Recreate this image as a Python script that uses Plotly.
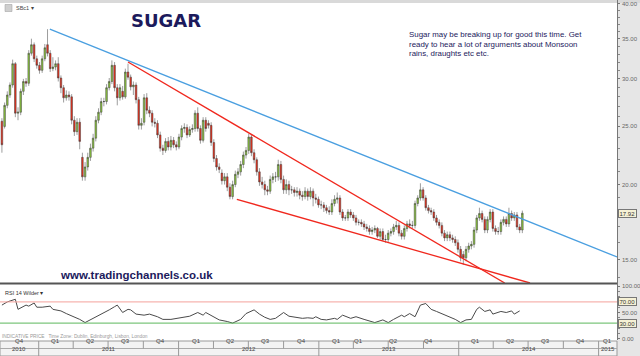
import math
import pandas as pd
import plotly.graph_objects as go

# ---------------- data (weekly candles) ----------------
open_ = [25.5,25.0,27.1,28.2,29.3,31.8,26.3,26.4,28.6,29.7,29.5,33.1,34.2,32.4,31.6,31.0,32.4,34.2,33.1,31.2,
         31.4,31.8,30.1,29.0,27.9,28.2,28.0,25.6,24.5,25.4,22.2,20.6,21.4,22.2,23.0,23.9,25.6,26.4,27.5,27.5,
         29.0,29.7,31.6,29.0,27.9,28.6,28.0,30.8,30.2,29.1,29.3,27.7,25.1,25.4,27.9,26.6,26.3,25.4,25.3,24.2,
         23.0,22.8,23.6,23.1,23.7,23.3,23.1,24.0,24.8,24.9,24.2,24.7,24.8,26.3,24.8,23.7,25.6,25.3,25.1,23.5,
         22.1,21.4,20.9,20.3,20.6,19.8,19.1,20.0,20.8,21.0,21.6,22.4,22.8,24.0,22.6,22.0,21.0,20.2,20.0,19.6,
         19.5,20.4,20.6,20.6,21.6,20.4,19.6,20.0,19.6,19.6,19.4,19.5,19.2,19.1,19.5,19.1,19.5,19.0,18.9,18.5,
         18.5,18.3,18.1,18.0,18.6,18.9,19.0,18.0,17.6,17.6,18.0,17.8,17.6,17.3,17.3,17.2,17.0,16.9,16.7,16.8,
         16.9,16.4,16.7,16.2,16.2,16.6,16.7,17.0,17.1,16.6,16.4,16.9,17.2,17.1,17.1,18.6,19.0,19.6,19.0,18.3,
         18.1,18.0,17.6,17.3,17.1,16.6,16.3,16.5,16.3,16.2,16.0,15.6,15.3,15.1,15.6,15.8,15.9,16.8,17.6,17.9,
         17.5,16.8,17.5,18.0,16.9,16.7,16.7,17.3,17.5,17.2,17.9,17.6,17.8,17.0,16.8]
high = [25.8,27.4,28.6,29.6,32.3,32.0,26.9,28.9,30.0,30.1,33.5,35.0,34.5,32.8,32.0,32.8,34.3,36.3,33.5,32.6,
        32.2,32.6,30.4,29.3,28.7,28.6,28.3,26.0,25.8,25.8,22.6,21.8,22.6,23.4,24.3,26.0,26.8,27.9,27.9,29.4,
        30.1,32.2,32.0,29.4,29.4,29.2,31.2,31.8,30.5,29.7,29.6,28.0,25.8,28.3,28.4,27.0,26.6,25.8,25.6,24.5,
        23.3,23.9,24.0,24.1,24.0,23.6,24.3,25.1,25.3,25.2,25.0,25.2,26.6,26.9,25.1,25.9,25.9,25.6,25.4,23.8,
        22.4,21.7,21.2,20.9,20.9,20.1,20.3,21.1,21.3,21.9,22.7,23.1,24.3,24.2,22.9,22.2,21.3,20.6,20.3,19.9,
        20.7,20.9,21.0,22.0,21.9,20.7,20.4,20.3,19.9,19.8,19.8,19.7,19.5,19.8,19.7,19.8,19.7,19.3,19.1,18.8,
        18.7,18.5,18.4,18.9,19.2,19.4,19.2,18.2,17.8,18.2,18.2,18.0,17.8,17.5,17.5,17.4,17.2,17.1,17.0,17.1,
        17.0,16.9,16.9,16.5,16.8,16.9,17.2,17.4,17.3,16.8,17.1,17.4,17.5,17.4,18.8,19.2,20.1,19.8,19.2,18.5,
        18.3,18.2,17.8,17.5,17.3,16.8,16.7,16.7,16.5,16.4,16.2,15.8,15.5,15.8,16.0,16.1,17.0,17.8,18.3,18.1,
        17.7,17.7,18.2,18.2,17.1,17.0,17.5,17.7,17.7,18.3,18.1,18.0,18.0,17.2,18.1]
low = [22.6,24.8,26.8,27.9,29.0,25.9,25.6,26.1,28.2,29.1,29.2,32.8,32.0,31.2,30.6,30.7,32.1,32.7,30.8,30.9,
       31.0,29.7,28.4,27.4,27.6,27.6,25.2,24.1,24.2,22.9,20.3,20.3,21.1,21.9,22.7,23.6,25.3,26.1,27.0,27.2,
       28.7,29.4,28.6,27.1,27.6,27.7,27.8,29.9,28.7,28.2,27.3,24.7,24.7,25.1,26.2,25.9,25.0,24.9,23.9,22.7,
       22.4,22.6,22.8,22.8,23.0,22.8,22.9,23.7,24.4,23.9,24.0,24.4,24.5,24.5,23.4,23.5,24.5,24.8,23.2,21.8,
       21.1,20.9,20.0,20.0,19.5,18.9,18.9,19.8,20.5,20.7,21.3,22.1,22.5,22.3,21.7,20.7,19.9,19.7,19.2,19.2,
       19.3,20.1,20.2,20.3,20.1,19.3,19.3,19.2,19.3,19.1,19.1,18.9,18.8,18.9,18.8,18.9,18.4,18.6,18.3,18.2,
       18.0,17.9,17.8,17.8,18.4,18.6,17.8,17.4,17.4,17.4,17.6,17.4,17.1,17.1,17.0,16.8,16.7,16.5,16.5,16.6,
       16.3,16.2,16.1,16.0,16.0,16.4,16.5,16.8,16.4,16.2,16.2,16.7,16.9,16.9,16.9,18.4,18.8,18.8,18.1,17.9,
       17.8,17.4,17.1,16.9,16.4,16.1,16.1,16.1,16.0,15.8,15.4,14.9,14.7,14.9,15.4,15.6,15.7,16.6,17.4,17.3,
       16.6,16.6,17.3,16.7,16.5,16.5,16.5,17.1,17.0,17.0,17.4,17.4,16.8,16.6,16.6]
close = [23.3,27.1,28.2,29.3,31.8,26.3,26.4,28.6,29.7,29.5,33.1,34.2,32.4,31.6,31.0,32.4,33.8,33.1,31.2,31.4,
         31.8,30.1,29.0,27.9,28.2,28.0,25.6,24.5,25.4,23.6,20.6,21.4,22.2,23.0,23.9,25.6,26.4,27.5,27.5,29.0,
         29.7,31.6,29.0,27.9,29.0,28.0,30.8,30.2,29.1,29.3,27.7,25.1,25.3,27.9,26.6,26.3,25.4,25.3,24.2,23.0,
         22.8,23.6,23.1,23.7,23.3,23.1,24.0,24.8,24.9,24.2,24.7,24.8,26.3,24.8,23.7,25.6,24.8,25.1,23.5,22.1,
         21.4,21.2,20.3,20.6,19.8,19.1,20.0,20.8,21.0,21.6,22.4,22.8,24.0,22.6,22.0,21.0,20.2,20.0,19.6,19.5,
         20.4,20.6,20.6,21.6,20.4,19.6,20.0,19.6,19.6,19.4,19.5,19.2,19.1,19.5,19.1,19.5,19.0,18.9,18.5,18.5,
         18.3,18.1,18.0,18.6,18.9,19.0,18.0,17.6,17.6,18.0,17.8,17.6,17.3,17.3,17.2,17.0,16.9,16.7,16.8,16.9,
         16.4,16.7,16.2,16.2,16.6,16.7,17.0,17.1,16.6,16.4,16.9,17.2,17.1,17.1,18.6,19.0,19.6,19.0,18.3,18.1,
         18.0,17.6,17.3,17.1,16.6,16.3,16.5,16.3,16.2,16.0,15.6,15.1,15.1,15.6,15.8,15.9,16.8,17.6,17.9,17.5,
         16.8,17.5,18.0,16.9,16.7,16.7,17.3,17.5,17.2,17.9,17.6,17.8,17.0,16.8,17.92]
last_week = "2014-06-16"

# RSI(14, Wilder) read at a subset of weeks (index into the weekly candles)
rsi_idx = [0,2,5,6,9,10,12,13,15,18,19,22,24,27,29,31,33,35,38,40,42,43,45,47,48,50,53,55,58,60,
           63,65,68,70,73,75,76,79,81,84,86,89,91,94,96,98,100,102,105,107,109,112,114,116,117,119,121,124,125,127,
           130,132,135,137,139,142,144,146,149,150,152,154,156,158,160,162,164,167,169,171,173,175,177,178,180,182,183,186,188,190,
           191,193]
rsi_val = [64,70,75,56,64,62,68,60,60,62,56,53,48,42,37,31,36,42,50,55,61,64,50,56,55,47,45,47,42,37,
           37,39,42,43,50,45,50,42,36,33,30,37,48,55,47,41,37,39,50,43,41,39,40,39,42,37,36,39,37,45,
           39,42,37,34,31,36,31,37,45,42,48,42,64,67,56,52,48,42,37,31,36,37,56,60,52,55,47,52,50,53,
           47,53]
rsi_levels = [70, 30]

# trend lines (date, price)
blue_x, blue_y = ["2011-01-30", "2015-02-18"], [36.3, 15.15]
red_up_x, red_up_y = ["2011-08-22", "2014-05-01"], [32.0, 13.71]
red_lo_x, red_lo_y = ["2012-06-01", "2014-07-06"], [18.9, 13.71]

price_ticks = [15, 20, 25, 30, 35, 40]
price_minor = [14, 16, 17, 18, 19, 21, 22, 23, 24, 26, 27, 28, 29, 31, 32, 33, 34, 36, 37, 38, 39]
rsi_ticks = [0, 50, 100]
x_start, x_end = "2010-09-22", "2015-02-18"
price_lo, price_hi = 13.71, 40.6

quarter_starts = pd.date_range("2011-01-01", "2015-01-01", freq="QS")
quarter_text = ["Q4", "Q1", "Q2", "Q3", "Q4", "Q1", "Q2", "Q3", "Q4",
                "Q1", "Q1", "Q2", "Q4", "Q1", "Q2", "Q3", "Q4", "Q1"]
year_text = ["2010", "2011", "2012", "2013", "2014", "2015"]

# ---------------- figure ----------------
W, H = 640, 356
XR = 617 / W
def py(p):
    return 1 - p / H

NAVY = "#1c1a5c"
dates = pd.date_range(end=last_week, periods=len(close), freq="7D")

fig = go.Figure()
fig.add_trace(go.Candlestick(
    x=dates, open=open_, high=high, low=low, close=close,
    increasing=dict(fillcolor="#8cc63f", line=dict(color="#3a3a3a", width=0.5)),
    decreasing=dict(fillcolor="#e8321e", line=dict(color="#3a3a3a", width=0.5)),
    whiskerwidth=0, showlegend=False, hoverinfo="skip", xaxis="x", yaxis="y"))

for xs, ys, col in [(blue_x, blue_y, "#4a9fe0"), (red_up_x, red_up_y, "#f0281e"), (red_lo_x, red_lo_y, "#f0281e")]:
    fig.add_trace(go.Scatter(x=xs, y=ys, mode="lines", line=dict(color=col, width=1.3),
                             showlegend=False, hoverinfo="skip", xaxis="x", yaxis="y"))

fig.add_trace(go.Scatter(x=dates[rsi_idx], y=rsi_val, mode="lines", line=dict(color="#4a4a4a", width=1),
                         showlegend=False, hoverinfo="skip", xaxis="x2", yaxis="y2"))

main_dom = [py(283), 1]
rsi_dom = [py(340), py(283)]

axis_common = dict(ticks="outside", ticklen=2, tickcolor="#777", showline=True, linecolor="#777", linewidth=1,
                   showgrid=False, zeroline=False, showticklabels=False, side="right")

fig.update_layout(
    width=W, height=H, margin=dict(l=0, r=0, t=0, b=0, autoexpand=False),
    paper_bgcolor="white", plot_bgcolor="white", boxgap=0.12,
    font=dict(family="DejaVu Sans", size=7, color="#555"),
    xaxis=dict(domain=[0, XR], range=[x_start, x_end], type="date", anchor="y",
               showticklabels=False, showgrid=False, zeroline=False, rangeslider=dict(visible=False), ticks=""),
    yaxis=dict(domain=main_dom, type="log", range=[math.log10(price_lo), math.log10(price_hi)], anchor="x",
               tickvals=price_ticks,
               minor=dict(tickvals=price_minor, ticks="outside", ticklen=2, tickcolor="#888"), **axis_common),
    xaxis2=dict(domain=[0, XR], matches="x", anchor="y2", type="date",
                showticklabels=False, showgrid=False, zeroline=False, ticks=""),
    yaxis2=dict(domain=rsi_dom, range=[-1.9, 105.7], anchor="x2", tickvals=rsi_ticks,
                minor=dict(tickvals=[10, 20, 30, 40, 60, 70, 80, 90], ticks="outside", ticklen=2, tickcolor="#888"),
                **axis_common),
)

shapes = []
shapes.append(dict(type="rect", xref="paper", yref="paper", x0=XR, x1=1, y0=0, y1=1,
                   fillcolor="#e6e6e6", line=dict(width=0), layer="below"))
shapes.append(dict(type="rect", xref="paper", yref="paper", x0=0, x1=1, y0=py(3), y1=1,
                   fillcolor="#d9d9d9", line=dict(width=0), layer="below"))
shapes.append(dict(type="line", xref="paper", yref="paper", x0=0, x1=XR, y0=py(283.5), y1=py(283.5),
                   line=dict(color="#555", width=2)))
for lv, col in zip(rsi_levels, ["#f4a19b", "#5cb85c"]):
    shapes.append(dict(type="line", xref="paper", yref="y2", x0=0, x1=XR, y0=lv, y1=lv,
                       line=dict(color=col, width=1)))
shapes.append(dict(type="rect", xref="paper", yref="paper", x0=0, x1=XR, y0=0, y1=py(341),
                   fillcolor="#f3f3f3", line=dict(color="#999", width=1), layer="below"))
shapes.append(dict(type="line", xref="paper", yref="paper", x0=0, x1=XR, y0=py(348.5), y1=py(348.5),
                   line=dict(color="#aaa", width=1)))
for q in quarter_starts:
    top = py(341)
    bot = 0 if q.month == 1 else py(348.5)
    shapes.append(dict(type="line", xref="x", yref="paper", x0=q, x1=q, y0=bot, y1=top,
                       line=dict(color="#999", width=1)))
shapes.append(dict(type="rect", xref="paper", yref="paper", x0=5 / W, x1=12 / W, y0=py(11.5), y1=py(4.5),
                   fillcolor="#cfcfcf", line=dict(color="#999", width=0.5)))
fig.update_layout(shapes=shapes)

ann = []
TICKF = dict(family="Liberation Sans", size=6, color="#666")
for v in price_ticks:
    ann.append(dict(x=619.5 / W, y=math.log10(v), xref="paper", yref="y", text=f"{v:.2f}", showarrow=False,
                    xanchor="left", yanchor="middle", font=TICKF))
for v in rsi_ticks:
    ann.append(dict(x=619.5 / W, y=v, xref="paper", yref="y2", text=f"{v:.2f}", showarrow=False,
                    xanchor="left", yanchor="middle", font=TICKF))

edges = [pd.Timestamp(x_start)] + list(quarter_starts) + [pd.Timestamp(x_end)]
for i, t in enumerate(quarter_text):
    a, b = edges[i], edges[i + 1]
    mid = a + (b - a) / 2
    if a.year == 2013 and a.month > 1:
        mid = a + pd.Timedelta(days=14)
    ann.append(dict(x=mid, y=py(345.3), xref="x", yref="paper", text=t, showarrow=False,
                    borderpad=0, font=dict(family="Liberation Sans", size=6, color="#444")))
year_edges = [pd.Timestamp(x_start)] + [pd.Timestamp(f"{y}-01-01") for y in range(2011, 2016)] + [pd.Timestamp(x_end)]
for i, t in enumerate(year_text):
    a, b = year_edges[i], year_edges[i + 1]
    ann.append(dict(x=a + (b - a) / 2, y=py(352.5), xref="x", yref="paper", text=t, showarrow=False,
                    borderpad=0, font=dict(family="Liberation Sans", size=6, color="#444")))

ann.append(dict(x=166 / W, y=py(21), xref="paper", yref="paper", text="<b>SUGAR</b>", showarrow=False,
                font=dict(family="DejaVu Sans", size=18, color=NAVY), xanchor="center", yanchor="middle"))
for i, line in enumerate(["Sugar may be breaking up for good this time. Get",
                          "ready to hear a lot of arguments about Monsoon",
                          "rains, draughts etc etc."]):
    ann.append(dict(x=407 / W, y=py(35 + 9.3 * i), xref="paper", yref="paper", text=line, showarrow=False,
                    xanchor="left", yanchor="middle", font=dict(family="Liberation Sans", size=7.9, color=NAVY)))
ann.append(dict(x=136 / W, y=py(275), xref="paper", yref="paper", text="<b>www.tradingchannels.co.uk</b>",
                showarrow=False, xanchor="center", yanchor="middle",
                font=dict(family="Liberation Sans", size=11.5, color=NAVY)))
ann.append(dict(x=14 / W, y=py(8), xref="paper", yref="paper", text="SBc1 ▾", showarrow=False,
                xanchor="left", yanchor="middle", font=dict(family="Liberation Sans", size=5.5, color="#444")))
ann.append(dict(x=3 / W, y=py(292.5), xref="paper", yref="paper", text="RSI 14 Wilder ▾", showarrow=False,
                xanchor="left", yanchor="middle", font=dict(family="Liberation Sans", size=5.5, color="#333")))
ann.append(dict(x=1 / W, y=py(336.3), xref="paper", yref="paper",
                text="INDICATIVE PRICE   Time Zone: Dublin, Edinburgh, Lisbon, London", showarrow=False,
                borderpad=0, xanchor="left", yanchor="middle",
                font=dict(family="Liberation Sans", size=4.8, color="#999")))
BOX = dict(showarrow=False, xanchor="left", yanchor="middle", bgcolor="#f6f1d5", bordercolor="#777",
           borderwidth=1, borderpad=0.5, font=dict(family="Liberation Sans", size=6, color="#333"))
ann.append(dict(x=618 / W, y=math.log10(close[-1]), xref="paper", yref="y", text=f"{close[-1]:.2f}", **BOX))
for lv in rsi_levels:
    ann.append(dict(x=618 / W, y=lv, xref="paper", yref="y2", text=f"{lv:.2f}", **BOX))
fig.update_layout(annotations=ann)

fig.write_html("out.html", config={"displayModeBar": False},
               post_script="document.body.style.margin='0px';document.body.style.overflow='hidden';")
